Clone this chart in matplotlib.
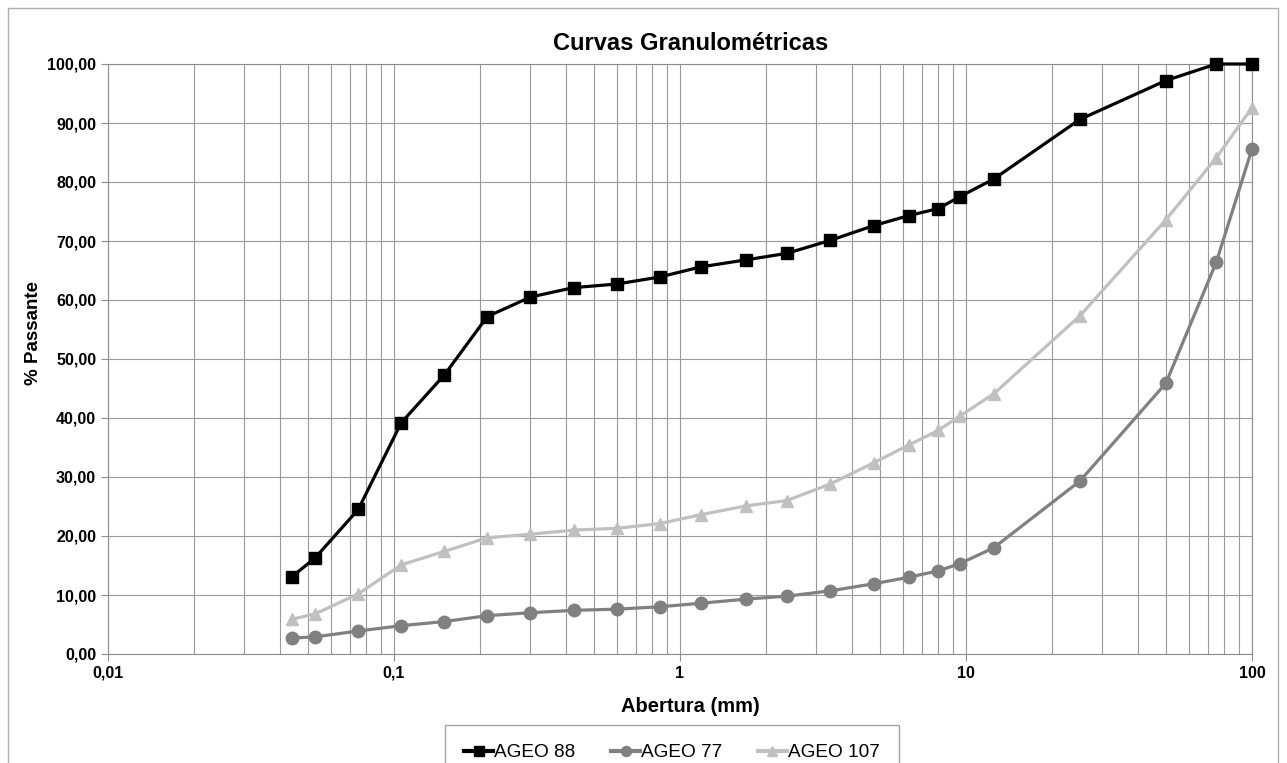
import numpy as np
import matplotlib.pyplot as plt
from matplotlib.ticker import FixedLocator, FuncFormatter, LogLocator, NullFormatter

plt.rcParams['font.family'] = ['Liberation Sans', 'DejaVu Sans']

# Abertura das peneiras (mm)
abertura = [0.044, 0.053, 0.075, 0.106, 0.15, 0.212, 0.3, 0.425, 0.6, 0.85,
            1.18, 1.7, 2.36, 3.35, 4.75, 6.3, 8.0, 9.5, 12.5, 25, 50, 75, 100]

# % passante
ageo_88 = [13.1, 16.3, 24.5, 39.2, 47.3, 57.2, 60.5, 62.1, 62.7, 63.9,
           65.6, 66.8, 67.9, 70.1, 72.6, 74.3, 75.5, 77.5, 80.5, 90.6, 97.2, 100.0, 100.0]
ageo_77 = [2.7, 2.9, 3.9, 4.8, 5.5, 6.5, 7.0, 7.4, 7.6, 8.0,
           8.6, 9.3, 9.8, 10.7, 11.9, 13.0, 14.1, 15.3, 18.0, 29.3, 45.9, 66.4, 85.6]
ageo_107 = [5.9, 6.8, 10.2, 15.1, 17.4, 19.7, 20.3, 21.0, 21.3, 22.1,
            23.6, 25.1, 26.0, 28.8, 32.4, 35.4, 37.9, 40.3, 44.1, 57.3, 73.6, 84.1, 92.6]

fig = plt.figure(figsize=(12.87, 7.63), dpi=100)
ax = fig.add_axes([108 / 1287, 1 - 654 / 763, (1252 - 108) / 1287, (654 - 64) / 763])

ax.plot(abertura, ageo_88, color='black', lw=2.3, marker='s', ms=9, label='AGEO 88',
        zorder=5, clip_on=False)
ax.plot(abertura, ageo_77, color='#808080', lw=2.3, marker='o', ms=9, label='AGEO 77',
        zorder=4, clip_on=False)
ax.plot(abertura, ageo_107, color='#c0c0c0', lw=2.3, marker='^', ms=9, label='AGEO 107',
        zorder=3, clip_on=False)

ax.set_xscale('log')
ax.set_xlim(0.01, 100)
ax.set_ylim(0, 100)

ax.xaxis.set_major_locator(FixedLocator([0.01, 0.1, 1, 10, 100]))
ax.xaxis.set_minor_locator(LogLocator(base=10, subs=np.arange(2, 10)))
ax.xaxis.set_minor_formatter(NullFormatter())
ax.xaxis.set_major_formatter(FuncFormatter(lambda v, p: ('%g' % v).replace('.', ',')))
ax.set_yticks(np.arange(0, 101, 10))
ax.yaxis.set_major_formatter(FuncFormatter(lambda v, p: ('%.2f' % v).replace('.', ',')))

ax.grid(True, which='both', axis='x', color='#999999', lw=0.8)
ax.grid(True, which='major', axis='y', color='#999999', lw=0.8)
ax.set_axisbelow(True)

for s in ax.spines.values():
    s.set_color('#8c8c8c')
ax.tick_params(axis='both', which='major', colors='#8c8c8c', labelcolor='black',
               length=5, labelsize=11.5)
ax.tick_params(axis='x', which='minor', length=0)
for lab in ax.get_xticklabels() + ax.get_yticklabels():
    lab.set_fontweight('bold')

ax.set_title('Curvas Granulométricas', fontsize=17, fontweight='bold', pad=10,
             x=(691 - 108) / 1144)
ax.set_xlabel('Abertura (mm)', fontsize=14.5, fontweight='bold')
ax.xaxis.set_label_coords((690 - 108) / 1144, -(706 - 654) / 590)
ax.xaxis.label.set_va('center')
ax.set_ylabel('% Passante', fontsize=13.5, fontweight='bold')
ax.yaxis.set_label_coords(-(108 - 33) / 1144, (654 - 333) / 590)
ax.yaxis.label.set_va('center')

leg = fig.legend(loc='upper center', bbox_to_anchor=(672 / 1287, 1 - 725 / 763), ncol=3,
                 fontsize=13.7, frameon=True, fancybox=False, handlelength=1.5,
                 handletextpad=0.05, columnspacing=1.9, borderpad=1.0, borderaxespad=0,
                 markerscale=0.8)
leg.get_frame().set_edgecolor('#8c8c8c')
leg.get_frame().set_linewidth(1.0)
for h in leg.get_lines():
    h.set_linewidth(3)

# borda externa do gráfico
fig.patches.append(plt.Rectangle((8 / 1287, -0.01), 1270 / 1287, 1 - 8 / 763 + 0.01,
                                 transform=fig.transFigure, fill=False,
                                 edgecolor='#b0b0b0', lw=1.0))

fig.savefig('out.png', dpi=100)
